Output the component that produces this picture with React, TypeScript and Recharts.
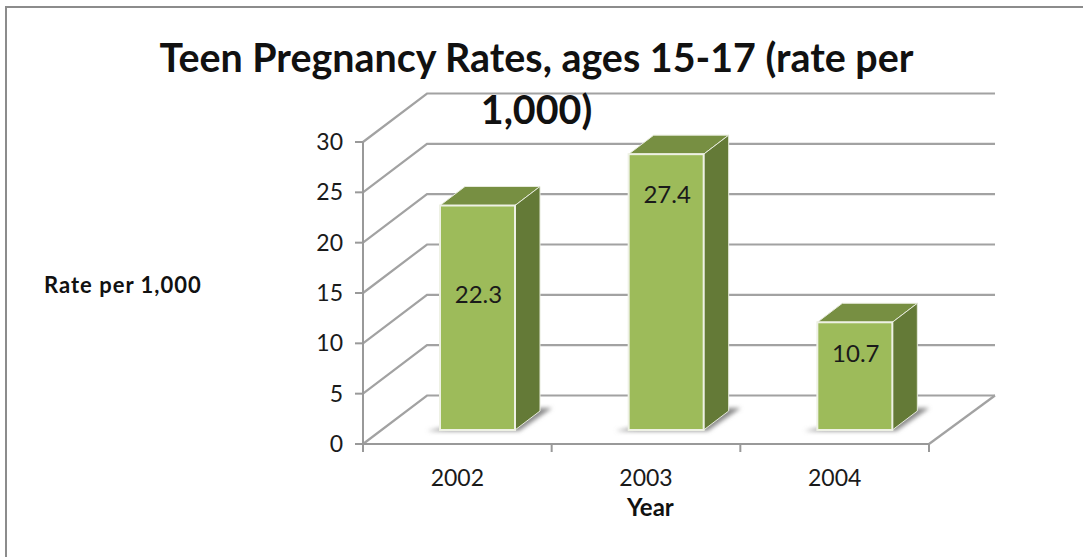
import { BarChart, Bar, XAxis, YAxis, CartesianGrid, LabelList } from "recharts";

const years = ["2002", "2003", "2004"];
const rates = [22.3, 27.4, 10.7];
const yTicks = [0, 5, 10, 15, 20, 25, 30];

const data = years.map((year, i) => ({ year, rate: rates[i] }));

const FONT = "Lato, 'Open Sans', sans-serif";
const GRID = "#a2a2a2";

// 3d look: the back wall and the bars are pushed back from the front plane
const WALL_DX = 64;
const WALL_DY = -48.5;
const BAR_DX = 20;
const BAR_DY = -14;
const BAR_DEPTH_X = 25;
const BAR_DEPTH_Y = -19;
const BAND = 566 / 3;

// the labels in the picture do not sit in the bar centre
const labelLift = [24, 99, 24];

const WallLine = ({ x1, x2, y1 }: any) => {
  const isFloor = y1 > 440;
  return (
    <g fill="none" stroke={GRID} strokeWidth={2.2}>
      <polyline
        points={`${x1},${y1} ${x1 + WALL_DX},${y1 + WALL_DY} ${x2 + WALL_DX + 2},${y1 + WALL_DY}`}
      />
      {isFloor && (
        <line x1={x2} y1={y1} x2={x2 + WALL_DX + 2} y2={y1 + WALL_DY} />
      )}
    </g>
  );
};

const Box = ({ x, y, width, height }: any) => {
  const left = x + BAR_DX;
  const right = left + width;
  const top = y + BAR_DY;
  const bottom = top + height;
  const bx = BAR_DEPTH_X;
  const by = BAR_DEPTH_Y;
  return (
    <g>
      <polygon
        points={`${left - 13},${bottom + 1} ${right + 4},${bottom + 1} ${right + bx + 12},${bottom + by - 3} ${right + bx},${bottom + by - 3}`}
        fill="#8a8a8a"
        filter="url(#boxShadow)"
      />
      <polygon
        points={`${left},${top} ${left + bx},${top + by} ${right + bx},${top + by} ${right},${top}`}
        fill="#778f42"
        stroke="#e6eadb"
        strokeWidth={1}
      />
      <polygon
        points={`${right},${top} ${right + bx},${top + by} ${right + bx},${bottom + by} ${right},${bottom}`}
        fill="#647a37"
        stroke="#e6eadb"
        strokeWidth={1}
      />
      <rect
        x={left}
        y={top}
        width={width}
        height={height}
        fill="#9dbb5a"
        stroke="#eef1e4"
        strokeWidth={2}
      />
    </g>
  );
};

const BarValue = ({ x, y, width, height, value, index }: any) => (
  <text
    x={x + BAR_DX + width / 2 + 1}
    y={y + BAR_DY + height / 2 - labelLift[index]}
    textAnchor="middle"
    dominantBaseline="central"
    fontFamily={FONT}
    fontSize={24}
    fill="#1a1a1a"
  >
    {value}
  </text>
);

const YearTick = ({ x, y, payload, index }: any) => (
  <g>
    <line x1={x - BAND / 2} x2={x - BAND / 2} y1={y - 8} y2={y} stroke="#999" strokeWidth={2} />
    {index === years.length - 1 && (
      <line x1={x + BAND / 2} x2={x + BAND / 2} y1={y - 8} y2={y} stroke="#999" strokeWidth={2} />
    )}
    <text
      x={x}
      y={y + 34}
      textAnchor="middle"
      fontFamily={FONT}
      fontSize={23}
      fill="#1a1a1a"
    >
      {payload.value}
    </text>
  </g>
);

export default function App() {
  return (
    <div
      style={{
        position: "absolute",
        left: 0,
        top: 0,
        width: 1083,
        height: 557,
        overflow: "hidden",
        background: "#fff",
      }}
    >
      <div
        style={{
          position: "absolute",
          left: 5,
          top: 6,
          width: 1100,
          height: 600,
          border: "2px solid #8c8c8c",
        }}
      />
      <BarChart
        width={1083}
        height={557}
        data={data}
        barSize={75}
        margin={{ top: 142, right: 154, bottom: 73, left: 300 }}
        style={{ position: "absolute", left: 0, top: 0 }}
      >
        <defs>
          <filter id="boxShadow" x="-30%" y="-60%" width="160%" height="220%">
            <feGaussianBlur stdDeviation="2" />
          </filter>
        </defs>
        <CartesianGrid
          vertical={false}
          horizontal={(props: any) => <WallLine key={props.key} {...props} />}
        />
        <XAxis
          dataKey="year"
          height={40}
          axisLine={{ stroke: "#999", strokeWidth: 2 }}
          tickLine={false}
          tick={<YearTick />}
          interval={0}
        />
        <YAxis
          width={63}
          domain={[0, 30]}
          ticks={yTicks}
          interval={0}
          axisLine={{ stroke: "#999", strokeWidth: 2 }}
          tickLine={{ stroke: "#999", strokeWidth: 2 }}
          tickSize={8}
          tickMargin={12}
          tick={{ fontFamily: FONT, fontSize: 23, fill: "#1a1a1a" }}
        />
        <Bar dataKey="rate" shape={<Box />} isAnimationActive={false}>
          <LabelList dataKey="rate" content={<BarValue />} />
        </Bar>
      </BarChart>
      <div
        style={{
          position: "absolute",
          left: 0,
          top: 31,
          width: 1073,
          textAlign: "center",
          fontFamily: FONT,
          fontWeight: 700,
          fontSize: 39.4,
          lineHeight: "52px",
          color: "#111",
        }}
      >
        Teen Pregnancy Rates, ages 15-17 (rate per
        <br />
        1,000)
      </div>
      <div
        style={{
          position: "absolute",
          left: 44,
          top: 271,
          fontFamily: FONT,
          fontWeight: 700,
          fontSize: 22,
          letterSpacing: 1,
          color: "#111",
        }}
      >
        Rate per 1,000
      </div>
      <div
        style={{
          position: "absolute",
          left: 627,
          top: 492,
          fontFamily: FONT,
          fontWeight: 700,
          fontSize: 24,
          color: "#111",
        }}
      >
        Year
      </div>
    </div>
  );
}
